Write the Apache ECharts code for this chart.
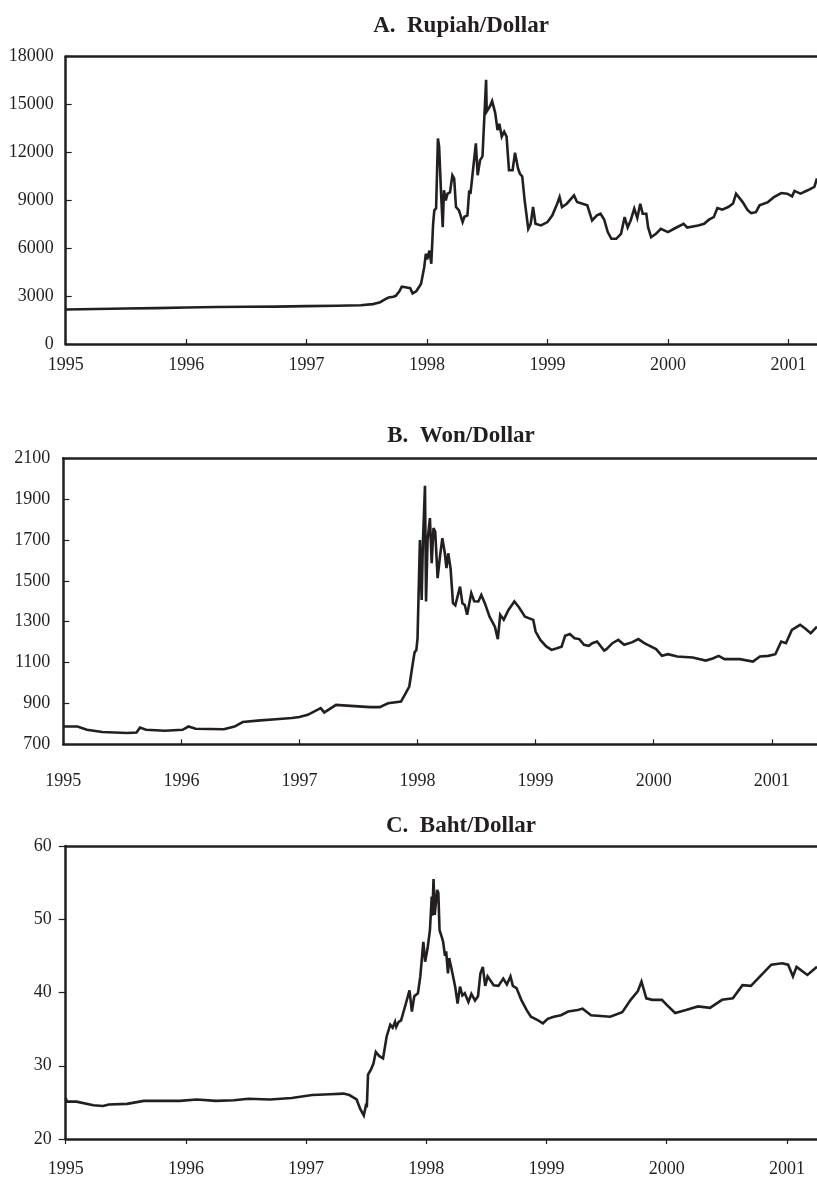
<!DOCTYPE html>
<html>
<head>
<meta charset="utf-8">
<title>Rupiah, Won and Baht per Dollar</title>
<script src="https://cdn.jsdelivr.net/npm/echarts@6/dist/echarts.min.js"></script>
<style>
  html, body { margin: 0; padding: 0; background: #fff; }
  #chart { width: 817px; height: 1178px; }
</style>
</head>
<body>
<div id="chart"></div>
<script>
// year ticks shared by the three panels
const yearTicks = [1995, 1996, 1997, 1998, 1999, 2000, 2001];

// A. Rupiah/Dollar
const rupiahTicks = [0, 3000, 6000, 9000, 12000, 15000, 18000];
const rupiahYears = [
  1995.00, 1995.25, 1995.50, 1995.75, 1996.00, 1996.25, 1996.50, 1996.75, 1997.00, 1997.25,
  1997.45, 1997.55, 1997.58, 1997.61, 1997.65, 1997.68, 1997.72, 1997.74, 1997.77, 1997.79,
  1997.82, 1997.86, 1997.88, 1997.91, 1997.94, 1997.95, 1997.976, 1997.99, 1998.00, 1998.02,
  1998.035, 1998.05, 1998.06, 1998.075, 1998.09, 1998.10, 1998.115, 1998.13, 1998.14, 1998.155,
  1998.17, 1998.19, 1998.21, 1998.225, 1998.24, 1998.265, 1998.295, 1998.31, 1998.335, 1998.35,
  1998.36, 1998.405, 1998.42, 1998.44, 1998.46, 1998.49, 1998.495, 1998.52, 1998.54, 1998.55,
  1998.565, 1998.585, 1998.60, 1998.62, 1998.64, 1998.66, 1998.68, 1998.71, 1998.73, 1998.755,
  1998.77, 1998.79, 1998.81, 1998.84, 1998.86, 1998.88, 1998.90, 1998.945, 1999.00, 1999.04,
  1999.08, 1999.10, 1999.12, 1999.16, 1999.22, 1999.245, 1999.29, 1999.33, 1999.37, 1999.41,
  1999.44, 1999.47, 1999.50, 1999.53, 1999.57, 1999.61, 1999.64, 1999.665, 1999.69, 1999.72,
  1999.745, 1999.77, 1999.79, 1999.82, 1999.835, 1999.86, 1999.90, 1999.94, 2000.00, 2000.05,
  2000.13, 2000.16, 2000.25, 2000.30, 2000.34, 2000.38, 2000.41, 2000.45, 2000.50, 2000.54,
  2000.565, 2000.58, 2000.62, 2000.66, 2000.69, 2000.73, 2000.76, 2000.83, 2000.88, 2000.94,
  2000.99, 2001.03, 2001.05, 2001.10, 2001.16, 2001.215, 2001.237
];
const rupiahValues = [
  2160, 2190, 2220, 2250, 2290, 2320, 2330, 2340, 2370, 2400,
  2430, 2500, 2560, 2620, 2800, 2910, 2960, 3020, 3300, 3590,
  3550, 3500, 3170, 3300, 3650, 3780, 4800, 5660, 5300, 5850,
  5030, 7500, 8370, 8500, 12880, 12360, 9630, 7320, 9630, 9000,
  9420, 9500, 10570, 10360, 8580, 8370, 7640, 7970, 8060, 9630,
  9400, 12570, 10570, 11520, 11750, 16550, 14560, 14870, 15220, 15330,
  14500, 13400, 13800, 12990, 13300, 12990, 10890, 10890, 11980, 11000,
  10680, 10500, 9000, 7220, 7530, 8580, 7530, 7430, 7640, 8060,
  8790, 9210, 8580, 8790, 9310, 8900, 8790, 8690, 7740, 8060,
  8160, 7800, 7010, 6590, 6590, 6900, 7950, 7300, 7740, 8480,
  7900, 8790, 8160, 8160, 7300, 6690, 6900, 7220, 7010, 7220,
  7530, 7290, 7430, 7530, 7790, 7950, 8520, 8420, 8580, 8800,
  9420, 9300, 8890, 8400, 8200, 8260, 8690, 8890, 9210, 9460,
  9420, 9250, 9590, 9420, 9630, 9840, 10370
];

// B. Won/Dollar
const wonTicks = [700, 900, 1100, 1300, 1500, 1700, 1900, 2100];
const wonYears = [
  1995.00, 1995.12, 1995.20, 1995.33, 1995.54, 1995.62, 1995.65, 1995.70, 1995.86, 1996.01,
  1996.06, 1996.12, 1996.36, 1996.45, 1996.52, 1996.67, 1996.80, 1996.935, 1997.00, 1997.07,
  1997.18, 1997.21, 1997.31, 1997.465, 1997.60, 1997.68, 1997.75, 1997.86, 1997.90, 1997.93,
  1997.96, 1997.975, 1997.99, 1998.00, 1998.02, 1998.035, 1998.045, 1998.063, 1998.072, 1998.085,
  1998.105, 1998.12, 1998.135, 1998.15, 1998.17, 1998.19, 1998.21, 1998.23, 1998.245, 1998.26,
  1998.28, 1998.30, 1998.32, 1998.36, 1998.38, 1998.40, 1998.42, 1998.455, 1998.48, 1998.515,
  1998.54, 1998.57, 1998.61, 1998.655, 1998.68, 1998.70, 1998.73, 1998.77, 1998.82, 1998.86,
  1998.91, 1998.98, 1999.00, 1999.04, 1999.09, 1999.135, 1999.18, 1999.22, 1999.25, 1999.29,
  1999.33, 1999.37, 1999.41, 1999.45, 1999.48, 1999.52, 1999.58, 1999.60, 1999.65, 1999.70,
  1999.75, 1999.82, 1999.87, 1999.92, 2000.02, 2000.07, 2000.12, 2000.20, 2000.33, 2000.44,
  2000.50, 2000.55, 2000.60, 2000.73, 2000.84, 2000.90, 2000.97, 2001.03, 2001.08, 2001.12,
  2001.17, 2001.24, 2001.28, 2001.33, 2001.383
];
const wonValues = [
  787, 787, 771, 760, 755, 758, 782, 771, 766, 771,
  787, 776, 774, 787, 809, 817, 823, 829, 834, 844,
  877, 856, 893, 887, 882, 882, 901, 909, 950, 983,
  1097, 1150, 1162, 1219, 1700, 1407, 1680, 1965, 1399, 1700,
  1807, 1586, 1758, 1740, 1513, 1619, 1709, 1640, 1562, 1635,
  1560, 1391, 1380, 1472, 1390, 1382, 1334, 1440, 1400, 1399,
  1431, 1391, 1325, 1276, 1215, 1334, 1310, 1358, 1399, 1370,
  1325, 1309, 1252, 1211, 1179, 1162, 1170, 1178, 1231, 1240,
  1219, 1215, 1187, 1182, 1195, 1203, 1159, 1166, 1195, 1211,
  1187, 1200, 1215, 1195, 1166, 1133, 1141, 1130, 1125, 1110,
  1120, 1133, 1117, 1117, 1105, 1130, 1133, 1141, 1203, 1195,
  1260, 1285, 1268, 1244, 1276
];

// C. Baht/Dollar
const bahtTicks = [20, 30, 40, 50, 60];
const bahtYears = [
  1995.00, 1995.01, 1995.09, 1995.23, 1995.31, 1995.36, 1995.51, 1995.65, 1995.78, 1995.95,
  1996.09, 1996.25, 1996.40, 1996.52, 1996.70, 1996.88, 1997.05, 1997.20, 1997.31, 1997.36,
  1997.42, 1997.45, 1997.48, 1997.50, 1997.505, 1997.515, 1997.54, 1997.56, 1997.58, 1997.61,
  1997.64, 1997.67, 1997.70, 1997.72, 1997.74, 1997.75, 1997.77, 1997.79, 1997.83, 1997.86,
  1997.88, 1997.90, 1997.93, 1997.95, 1997.975, 1997.99, 1998.01, 1998.03, 1998.045, 1998.05,
  1998.06, 1998.07, 1998.09, 1998.10, 1998.11, 1998.13, 1998.14, 1998.155, 1998.165, 1998.18,
  1998.19, 1998.21, 1998.24, 1998.26, 1998.28, 1998.30, 1998.32, 1998.35, 1998.375, 1998.405,
  1998.43, 1998.45, 1998.47, 1998.49, 1998.51, 1998.56, 1998.60, 1998.64, 1998.67, 1998.70,
  1998.72, 1998.75, 1998.79, 1998.835, 1998.87, 1998.93, 1998.97, 1999.01, 1999.06, 1999.12,
  1999.18, 1999.26, 1999.30, 1999.37, 1999.53, 1999.63, 1999.70, 1999.76, 1999.79, 1999.83,
  1999.88, 1999.96, 2000.00, 2000.07, 2000.16, 2000.26, 2000.36, 2000.46, 2000.55, 2000.63,
  2000.70, 2000.80, 2000.87, 2000.96, 2001.01, 2001.05, 2001.08, 2001.17, 2001.25
];
const bahtValues = [
  25.6, 25.1, 25.1, 24.6, 24.5, 24.7, 24.8, 25.2, 25.2, 25.2,
  25.4, 25.2, 25.3, 25.5, 25.4, 25.6, 26.0, 26.1, 26.2, 26.0,
  25.4, 24.1, 23.2, 24.8, 24.3, 28.8, 29.5, 30.3, 31.9, 31.3,
  31.0, 34.0, 35.6, 35.2, 36.0, 35.3, 36.0, 36.2, 38.5, 40.3,
  37.4, 39.5, 39.9, 42.2, 46.9, 44.2, 46.0, 48.5, 53.1, 50.5,
  55.5, 50.6, 54.0, 53.6, 48.5, 47.5, 46.9, 45.0, 45.6, 42.6,
  44.7, 43.2, 40.8, 38.5, 40.8, 39.6, 39.9, 38.7, 39.8, 38.9,
  39.5, 42.6, 43.5, 40.9, 42.2, 41.0, 40.9, 41.9, 41.1, 42.2,
  40.9, 40.6, 39.0, 37.6, 36.7, 36.2, 35.8, 36.4, 36.7, 36.9,
  37.4, 37.6, 37.8, 36.9, 36.7, 37.3, 39.0, 40.2, 41.5, 39.2,
  39.0, 39.0, 38.3, 37.2, 37.6, 38.1, 37.9, 39.0, 39.2, 41.0,
  40.9, 42.6, 43.8, 44.0, 43.8, 42.2, 43.5, 42.4, 43.5
];

const ink = '#231f20';
const serif = '"Liberation Serif", "Times New Roman", serif';

// one entry per panel: where it sits and how its axes look
const panels = [
  { title: 'A.  Rupiah/Dollar', titleTop: 10, left: 65.7, top: 56.7, height: 287.3, xMax: 2001.237,
    years: rupiahYears, values: rupiahValues, ticks: rupiahTicks, tickInside: true, xLabelMargin: 12, yLabelMargin: 12 },
  { title: 'B.  Won/Dollar', titleTop: 420, left: 63.3, top: 458.3, height: 286, xMax: 2001.383,
    years: wonYears, values: wonValues, ticks: wonTicks, tickInside: true, xLabelMargin: 28, yLabelMargin: 13 },
  { title: 'C.  Baht/Dollar', titleTop: 810, left: 65.7, top: 846, height: 293, xMax: 2001.25,
    years: bahtYears, values: bahtValues, ticks: bahtTicks, tickInside: false, xLabelMargin: 21, yLabelMargin: 14 }
];

const axisLine = { show: true, onZero: false, lineStyle: { color: ink, width: 2.5 } };
const labelStyle = { color: ink, fontFamily: serif, fontSize: 18 };

const titles = [], grids = [], xAxes = [], yAxes = [], series = [];
panels.forEach((p, i) => {
  titles.push({
    text: p.title, left: 456, top: p.titleTop, textAlign: 'center',
    textStyle: { color: ink, fontFamily: serif, fontSize: 23, fontWeight: 'bold' }
  });
  grids.push({ left: p.left, top: p.top, height: p.height, right: 0 });
  xAxes.push({
    type: 'value', gridIndex: i, min: 1995, max: p.xMax, interval: 1,
    axisLine: axisLine,
    axisTick: { show: true, inside: p.tickInside, length: 5, customValues: yearTicks,
      lineStyle: { color: ink, width: 1.2 } },
    axisLabel: Object.assign({
      margin: p.xLabelMargin, customValues: yearTicks,
      formatter: v => yearTicks.includes(v) ? String(v) : ''
    }, labelStyle),
    splitLine: { show: false }
  });
  // top border of the frame
  xAxes.push({
    type: 'value', gridIndex: i, position: 'top', min: 1995, max: p.xMax,
    axisLine: axisLine, axisTick: { show: false }, axisLabel: { show: false }, splitLine: { show: false }
  });
  yAxes.push({
    type: 'value', gridIndex: i,
    min: p.ticks[0], max: p.ticks[p.ticks.length - 1], interval: p.ticks[1] - p.ticks[0],
    axisLine: axisLine,
    axisTick: { show: true, inside: p.tickInside, length: p.tickInside ? 6 : 7, lineStyle: { color: ink, width: 1.2 } },
    axisLabel: Object.assign({ margin: p.yLabelMargin, formatter: v => String(v) }, labelStyle),
    splitLine: { show: false }
  });
  series.push({
    type: 'line', xAxisIndex: i * 2, yAxisIndex: i,
    data: p.years.map((x, k) => [x, p.values[k]]),
    showSymbol: false, silent: true,
    lineStyle: { color: ink, width: 2.6, join: 'miter', miterLimit: 4 }
  });
});

const chart = echarts.init(document.getElementById('chart'));
chart.setOption({
  animation: false,
  backgroundColor: '#fff',
  title: titles,
  grid: grids,
  xAxis: xAxes,
  yAxis: yAxes,
  series: series
});
</script>
</body>
</html>
